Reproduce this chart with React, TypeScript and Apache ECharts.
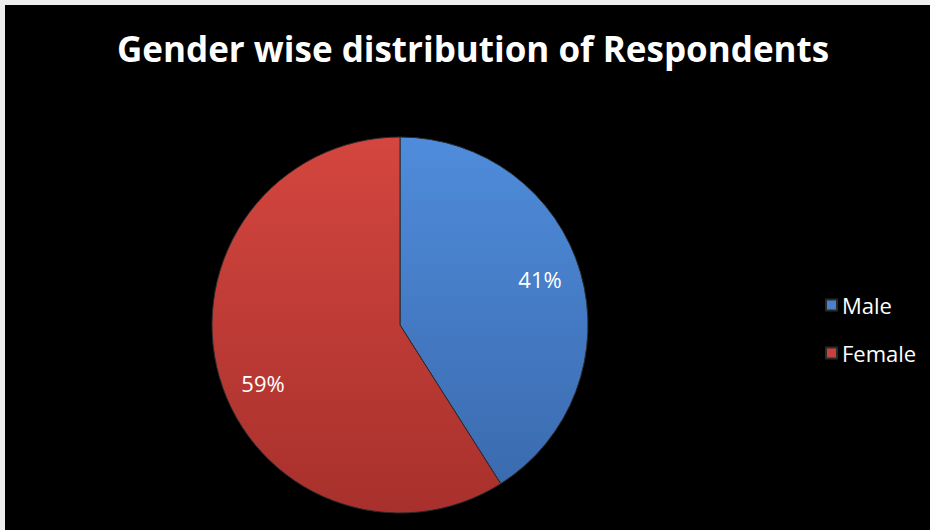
import React, { useEffect, useRef } from "react";
import * as echarts from "echarts";

const TITLE = "Gender wise distribution of Respondents";
const categories = ["Male", "Female"];
const values = [41, 59];
const topColors = ["#4f8cdb", "#d4463f"];
const bottomColors = ["#3968ab", "#a8302c"];
const legendColors = ["#4a80cc", "#c8413c"];
const labelOffsets = [
  [-5, -4],
  [8, 16],
];

export default function App() {
  const ref = useRef<HTMLDivElement>(null);
  useEffect(() => {
    document.body.style.margin = "0";
    const chart = echarts.init(ref.current!, null, { renderer: "svg" });
    const cx = 400;
    const cy = 325;
    const r = 188;
    const data = categories.map((name, i) => ({
      name,
      value: values[i],
      itemStyle: {
        color: {
          type: "linear",
          x: 0,
          y: cy - r,
          x2: 0,
          y2: cy + r,
          global: true,
          colorStops: [
            { offset: 0, color: topColors[i] },
            { offset: 1, color: bottomColors[i] },
          ],
        },
      },
    }));
    chart.setOption({
      animation: false,
      backgroundColor: "#000",
      graphic: [
        { type: "rect", shape: { x: 0, y: 0, width: 930, height: 5 }, style: { fill: "#eeeeee" }, z: 100 },
        { type: "rect", shape: { x: 0, y: 0, width: 5, height: 530 }, style: { fill: "#eeeeee" }, z: 100 },
      ],
      title: {
        text: TITLE,
        left: 112,
        top: 26,
        textStyle: {
          color: "#fff",
          fontFamily: "Open Sans",
          fontWeight: "bold",
          fontSize: 35,
        },
      },
      legend: {
        orient: "vertical",
        left: 820,
        top: 288,
        icon: "rect",
        itemWidth: 11,
        itemHeight: 11,
        itemGap: 24,
        textStyle: { color: "#fff", fontSize: 22, fontFamily: "Open Sans", lineHeight: 24 },
        data: categories.map((name, i) => ({ name, itemStyle: { color: legendColors[i] } })),
      },
      series: [
        {
          type: "pie",
          center: [cx, cy],
          radius: [0, r],
          startAngle: 90,
          clockwise: true,
          label: { show: false },
          labelLine: { show: false },
          itemStyle: { borderColor: "#2a2a2a", borderWidth: 1 },
          emphasis: { disabled: true },
          data,
        },
        {
          type: "pie",
          center: [cx, cy],
          radius: [110, 186],
          startAngle: 90,
          clockwise: true,
          silent: true,
          itemStyle: { color: "rgba(0,0,0,0)", borderWidth: 0 },
          label: {
            show: true,
            position: "inside",
            formatter: "{c}%",
            color: "#fff",
            fontSize: 22,
            fontFamily: "Open Sans",
          },
          labelLine: { show: false },
          emphasis: { disabled: true },
          data: categories.map((name, i) => ({
            name,
            value: values[i],
            label: { offset: labelOffsets[i] },
          })),
        },
      ],
    });
    return () => chart.dispose();
  }, []);
  return <div ref={ref} style={{ position: "absolute", left: 0, top: 0, width: 930, height: 530 }} />;
}
